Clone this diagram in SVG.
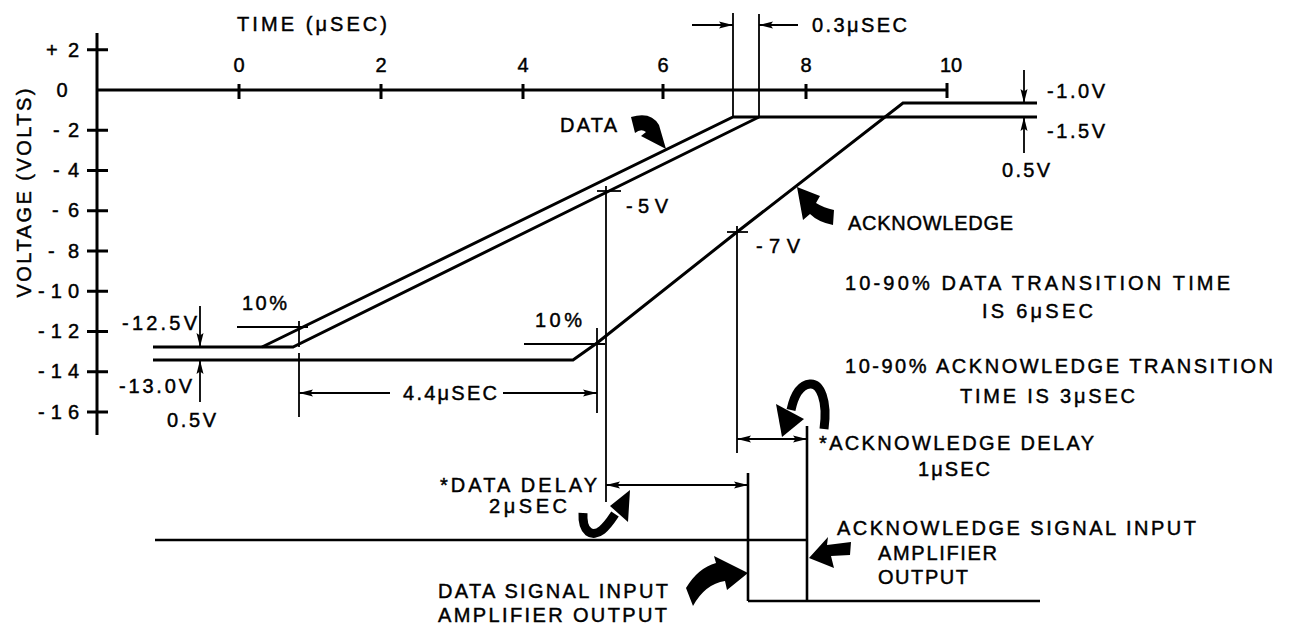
<svg xmlns="http://www.w3.org/2000/svg" width="1290" height="625" viewBox="0 0 1290 625">
<style>
.t{font-family:"Liberation Sans",Arial,sans-serif;font-size:20px;fill:#000;stroke:#000;stroke-width:0.45}
.e{text-anchor:end}
.m{text-anchor:middle}
.ax{stroke:#000;stroke-width:3;fill:none}
.w{stroke:#000;stroke-width:3;fill:none;stroke-linejoin:miter}
.d{stroke:#000;stroke-width:1.8;fill:none}
.s{stroke:#000;stroke-width:2.6;fill:none}
.ae{marker-end:url(#ar)}
.as{marker-start:url(#ar)}
.b{fill:#000;stroke:none}
.bs{stroke:#000;stroke-width:9;fill:none;stroke-linecap:butt}
</style>
<defs>
<marker id="ar" viewBox="0 0 14 8" refX="14" refY="4" markerWidth="14" markerHeight="8" orient="auto-start-reverse" markerUnits="userSpaceOnUse">
<path d="M0,0.5 L14,4 L0,7.5 L2.5,4 Z" fill="#000"/>
</marker>
</defs>
<rect width="1290" height="625" fill="#fff"/>

<g id="axes">
<line class="ax" x1="97" y1="33" x2="97" y2="435"/>
<line class="ax" x1="97" y1="90" x2="947" y2="90"/>
<path class="ax" d="M87,49.75H108M87,130.25H108M87,170.5H108M87,210.75H108M87,251H108M87,291.25H108M87,331.5H108M87,371.75H108M87,412H108"/>
<path class="ax" d="M239,84V99M381,84V99M523,84V99M663,84V99M806,84V99M947,83V98"/>
<text class="t" x="237" y="31" textLength="150">TIME (μSEC)</text>
<text class="t m" x="239" y="72">0</text>
<text class="t m" x="381" y="72">2</text>
<text class="t m" x="523" y="72">4</text>
<text class="t m" x="663" y="72">6</text>
<text class="t m" x="806" y="72">8</text>
<text class="t m" x="951" y="72" textLength="22">10</text>
<text class="t" transform="translate(31,193) rotate(-90)" text-anchor="middle" textLength="209">VOLTAGE (VOLTS)</text>
<text class="t e" x="79" y="57" textLength="33">+2</text>
<text class="t m" x="62" y="97">0</text>
<text class="t e" x="79" y="137" textLength="26">-2</text>
<text class="t e" x="79" y="177" textLength="26">-4</text>
<text class="t e" x="79" y="217" textLength="27">-6</text>
<text class="t e" x="79" y="258" textLength="31">-8</text>
<text class="t e" x="79" y="298" textLength="41">-10</text>
<text class="t e" x="79" y="338" textLength="41">-12</text>
<text class="t e" x="79" y="378" textLength="41">-14</text>
<text class="t e" x="79" y="419" textLength="41">-16</text>
</g>

<g id="data-waveform">
<polyline class="w" points="153,347 293,347 759,117"/>
<polyline class="w" points="262,347 733,117 1037,117"/>
<text class="t" x="560" y="132" textLength="57">DATA</text>
<path class="b" d="M631,117 Q651,111 659,125 L666,149 L641,136 L646,132 Q641,128 635,133 Z"/>
</g>

<g id="ack-waveform">
<polyline class="w" points="153,360 573,360 597,343 737,232 903,103 1037,103"/>
<text class="t" x="848" y="230" textLength="165">ACKNOWLEDGE</text>
<path class="b" d="M797,187 L820,196 L816,203 Q824,208 834,210 L833,225 Q818,222 810,214 L803,220 Z"/>
</g>

<g id="connectors">
<line class="d" x1="733" y1="13" x2="733" y2="117"/>
<line class="d" x1="759" y1="14" x2="759" y2="117"/>
<line class="d ae" x1="692" y1="25" x2="733" y2="25"/>
<line class="d ae" x1="798" y1="25" x2="759" y2="25"/>
<line class="d ae" x1="1024" y1="70" x2="1024" y2="103"/>
<line class="d ae" x1="1024" y1="153" x2="1024" y2="117"/>
<line class="d ae" x1="200" y1="306" x2="200" y2="347"/>
<line class="d ae" x1="200" y1="402" x2="200" y2="360"/>
<line class="d" x1="237" y1="327" x2="308" y2="327"/>
<line class="d" x1="299" y1="321" x2="299" y2="347"/>
<line class="d" x1="299" y1="353" x2="299" y2="417"/>
<line class="d" x1="597" y1="328" x2="597" y2="413"/>
<line class="d ae" x1="390" y1="393" x2="299" y2="393"/>
<line class="d ae" x1="503" y1="393" x2="597" y2="393"/>
<line class="d" x1="524" y1="344" x2="605" y2="344"/>
<line class="d" x1="597" y1="191" x2="621" y2="191"/>
<line class="d" x1="606" y1="186" x2="606" y2="502"/>
<line class="d" x1="727" y1="232" x2="748" y2="232"/>
<line class="d" x1="737" y1="226" x2="737" y2="453"/>
<line class="d as ae" x1="737" y1="439" x2="807" y2="439"/>
<line class="d as ae" x1="606" y1="485" x2="748" y2="485"/>
</g>

<g id="signals">
<line class="s" x1="155" y1="540" x2="807" y2="540"/>
<line class="s" x1="748" y1="473" x2="748" y2="601"/>
<line class="s" x1="807" y1="426" x2="807" y2="601"/>
<line class="s" x1="748" y1="601" x2="1040" y2="601"/>
</g>

<g id="bold-arrows">
<path class="bs" d="M824,429 C828,400 820,383 810,384 C800,385 794,396 791,410"/>
<polygon class="b" points="782,437 776,404 804,419"/>
<path class="bs" d="M583,513 C582,532 592,538 602,530 C608,525 611,520 615,514" stroke-width="10"/>
<polygon class="b" points="630,490 610,506 628,522"/>
<path class="b" d="M686,588 Q698,568 716,563 L714,556 L748,573 L727,590 L725,581 Q705,584 693,606 Z"/>
<path class="b" d="M809,558 L828,537 L827,545 L851,542 L850,555 L831,556 L834,568 Z"/>
</g>

<g id="labels">
<text class="t" x="812" y="32" textLength="95">0.3μSEC</text>
<text class="t" x="1047" y="98" textLength="58">-1.0V</text>
<text class="t" x="1047" y="138" textLength="58">-1.5V</text>
<text class="t" x="1002" y="177" textLength="48">0.5V</text>
<text class="t" x="626" y="213" textLength="42">-5V</text>
<text class="t" x="756" y="253" textLength="44">-7V</text>
<text class="t" x="242" y="310" textLength="45">10%</text>
<text class="t" x="122" y="330" textLength="75">-12.5V</text>
<text class="t" x="119" y="393" textLength="73">-13.0V</text>
<text class="t" x="167" y="427" textLength="49">0.5V</text>
<text class="t" x="403" y="400" textLength="94">4.4μSEC</text>
<text class="t" x="535" y="327" textLength="47">10%</text>
<text class="t" x="845" y="290" textLength="385">10-90% DATA TRANSITION TIME</text>
<text class="t" x="982" y="318" textLength="111">IS 6μSEC</text>
<text class="t" x="845" y="373" textLength="428">10-90% ACKNOWLEDGE TRANSITION</text>
<text class="t" x="960" y="403" textLength="175">TIME IS 3μSEC</text>
<text class="t" x="819" y="450" textLength="275">*ACKNOWLEDGE DELAY</text>
<text class="t" x="918" y="476" textLength="72">1μSEC</text>
<text class="t" x="440" y="492" textLength="157">*DATA DELAY</text>
<text class="t" x="489" y="513" textLength="78">2μSEC</text>
<text class="t" x="837" y="535" textLength="359">ACKNOWLEDGE SIGNAL INPUT</text>
<text class="t" x="878" y="560" textLength="119">AMPLIFIER</text>
<text class="t" x="878" y="584" textLength="90">OUTPUT</text>
<text class="t" x="438" y="598" textLength="230">DATA SIGNAL INPUT</text>
<text class="t" x="438" y="622" textLength="229">AMPLIFIER OUTPUT</text>
</g>
</svg>
